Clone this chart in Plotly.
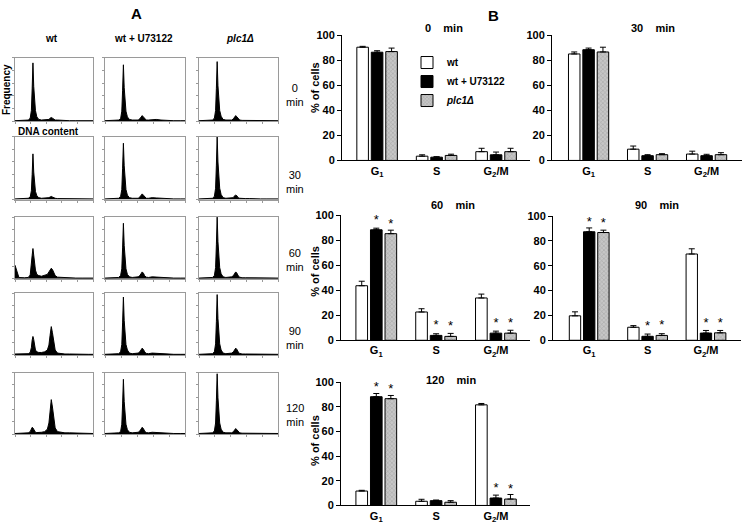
import plotly.graph_objects as go

W, H = 745, 531
FONT = "Liberation Sans, Arial, sans-serif"

# ---------------- Panel B data (% of cells) ----------------
phases = ["G1", "S", "G2/M"]
phase_labels = ["<b>G<sub>1</sub></b>", "<b>S</b>", "<b>G<sub>2</sub>/M</b>"]
strain_names = ["<b>wt</b>", "<b>wt + U73122</b>", "<b><i>plc1\u0394</i></b>"]
time_labels = ["0", "30", "60", "90", "120"]

wt_mean  = [[90.5, 3.4, 7.0], [85.1, 9.0, 5.1], [43.6, 22.6, 33.8], [19.7, 10.5, 69.5], [11.7, 3.4, 81.7]]
wt_err   = [[0.7, 1.1, 2.7], [1.6, 2.5, 2.3], [3.6, 2.6, 3.1], [3.2, 1.3, 4.2], [0.6, 1.6, 1.1]]
u73_mean = [[86.5, 2.6, 4.5], [88.5, 3.8, 3.8], [88.3, 3.9, 5.7], [87.4, 3.2, 5.8], [88.3, 3.9, 6.0]]
u73_err  = [[1.2, 0.4, 2.2], [1.3, 0.8, 1.1], [1.3, 1.3, 1.6], [3.1, 1.8, 2.1], [2.6, 0.5, 2.4]]
plc_mean = [[87.0, 4.0, 7.0], [86.7, 4.6, 4.6], [85.2, 3.1, 5.7], [86.8, 3.9, 6.0], [86.7, 2.6, 5.2]]
plc_err  = [[2.8, 1.0, 2.7], [3.8, 0.8, 1.6], [2.8, 2.4, 2.3], [1.9, 1.4, 1.9], [2.6, 1.3, 3.7]]
wt_sig   = [["", "", ""]] * 5
u73_sig  = [["", "", ""], ["", "", ""], ["*", "*", "*"], ["*", "*", "*"], ["*", "", "*"]]
plc_sig  = [["", "", ""], ["", "", ""], ["*", "*", "*"], ["*", "*", "*"], ["*", "", "*"]]

# ---------------- Panel A data (DNA content histograms) ----------------
dna_channel = [0, 50, 120, 170, 195, 210, 220, 230, 240, 250, 262, 280, 305, 340, 380,
               415, 435, 450, 465, 480, 495, 515, 545, 590, 640, 700, 780, 860, 940, 1000]
hist_wt = [
    [1, 1, 1, 2, 5, 17, 51, 92, 55, 29, 17, 7, 3, 2, 2, 2, 3, 5, 6, 5, 3, 2, 2, 1.5, 1.5, 1, 1, 1, 1, 1],
    [1, 1, 1, 2, 4, 14, 40, 73, 44, 24, 13, 6, 3, 2, 2, 2, 3, 4, 5, 4, 3, 2, 1.5, 1.5, 1, 1, 1, 1, 1, 1],
    [22, 2, 1.5, 2, 6, 20, 38, 49, 40, 25, 14, 7, 5, 4, 5, 7, 11, 15, 17, 15, 10, 5, 2.5, 2, 1.5, 1.5, 1, 1, 1, 1],
    [1.5, 1.5, 1.5, 2, 4, 12, 24, 30, 25, 15, 8, 5, 4, 4, 5, 8, 16, 32, 46, 36, 20, 8, 3, 2, 1.5, 1.5, 1, 1, 1, 1],
    [1, 1, 1, 2, 4, 8, 11, 10, 7, 4, 3, 2.5, 2.5, 3, 4, 8, 18, 38, 56, 44, 24, 10, 4, 3, 2, 2, 1.5, 1, 1, 1],
]
hist_u73 = [
    [1, 1, 1, 2, 4, 16, 49, 89, 53, 28, 16, 7, 3, 2, 2, 2, 4, 7, 9, 7, 4, 2, 2, 3, 3, 2, 1, 1, 1, 1],
    [1, 1, 1, 2, 5, 16, 50, 90, 54, 29, 16, 7, 3, 2, 2, 2, 4, 7, 9, 7, 4, 2, 2, 3, 2.5, 2, 1, 1, 1, 1],
    [1, 1, 1, 2, 5, 16, 50, 90, 54, 29, 16, 7, 3, 2, 2, 3, 5, 9, 11, 9, 5, 2.5, 2, 3, 2.5, 2, 1, 1, 1, 1],
    [1, 1, 1, 2, 5, 17, 52, 94, 56, 30, 17, 8, 3, 2, 2, 3, 5, 9, 11, 9, 5, 2.5, 2, 3, 2.5, 2, 1, 1, 1, 1],
    [1, 1, 1, 2, 4, 16, 49, 89, 53, 28, 16, 7, 3, 2, 2, 3, 5, 9, 11, 9, 5, 2.5, 2, 3, 2.5, 2, 1, 1, 1, 1],
]
hist_plc = [
    [1, 1, 1, 2, 5, 17, 52, 94, 56, 30, 17, 8, 3, 2, 2, 2, 4, 7, 9, 7, 4, 2, 1.5, 1.5, 2, 1.5, 1, 1, 1, 1],
    [1, 1, 1, 2, 5, 18, 55, 100, 60, 32, 18, 8, 3, 2, 2, 2, 3, 6, 7, 6, 3, 2, 1.5, 1.5, 1.5, 1, 1, 1, 1, 1],
    [1, 1, 1, 2, 5, 18, 55, 100, 60, 32, 18, 8, 3, 2, 2, 3, 5, 9, 11, 9, 5, 2.5, 1.5, 1.5, 1.5, 1, 1, 1, 1, 1],
    [1, 1, 1, 2, 5, 18, 54, 98, 59, 31, 18, 8, 3, 2, 2, 3, 5, 9, 11, 9, 5, 2.5, 1.5, 1.5, 1.5, 1, 1, 1, 1, 1],
    [1, 1, 1, 2, 5, 18, 54, 98, 59, 31, 18, 8, 3, 2, 2, 2, 4, 7, 9, 7, 4, 2, 1.5, 1.5, 1.5, 1, 1, 1, 1, 1],
]
hist_columns = ["<b>wt</b>", "<b>wt + U73122</b>", "<b><i>plc1\u0394</i></b>"]

# ---------------- layout helpers (pixel boxes) ----------------
def xd(a, b):
    return [a / W, b / W]

def yd(top, bot):
    return [1 - bot / H, 1 - top / H]

fig = go.Figure()
_count = [0]

def new_axes(xbox, ybox, xcfg, ycfg):
    _count[0] += 1
    s = "" if _count[0] == 1 else str(_count[0])
    fig.update_layout(**{
        "xaxis" + s: dict(domain=xd(*xbox), anchor="y" + s, **xcfg),
        "yaxis" + s: dict(domain=yd(*ybox), anchor="x" + s, **ycfg),
    })
    return "x" + s, "y" + s

# ---------------- Panel A ----------------
hist_cols_px = [(15, 93), (105, 185), (199, 278)]
hist_rows_px = [(53, 118), (134, 198), (216, 279), (294, 357), (375, 438)]
hx = dict(range=[0, 1000], showline=True, linecolor="#9a9a9a", linewidth=1, mirror=True,
          ticks="outside", ticklen=2, tickcolor="#9a9a9a", tickvals=[0, 200, 400, 600, 800, 1000],
          showticklabels=False, showgrid=False, zeroline=False)
hy = dict(range=[0, 100], showline=True, linecolor="#9a9a9a", linewidth=1, mirror=True,
          ticks="outside", ticklen=2, tickcolor="#9a9a9a", tickvals=[0, 20, 40, 60, 80, 100],
          showticklabels=False, showgrid=False, zeroline=False)
for r in range(5):
    for c, data in enumerate([hist_wt, hist_u73, hist_plc]):
        xa, ya = new_axes(hist_cols_px[c], hist_rows_px[r], hx, hy)
        fig.add_trace(go.Scatter(x=dna_channel, y=data[r], mode="lines",
                                 line=dict(color="black", width=1), fill="tozeroy",
                                 fillcolor="black", xaxis=xa, yaxis=ya,
                                 showlegend=False, hoverinfo="skip"))

# ---------------- Panel B ----------------
bar_boxes = [
    ((342, 530), (30, 158), [-0.59, 2.57]),
    ((552, 742), (30, 158), [-0.62, 2.6]),
    ((341, 530), (214, 342), [-0.59, 2.57]),
    ((553, 741), (215, 342), [-0.62, 2.6]),
    ((341, 530), (385, 511), [-0.59, 2.57]),
]
styles = [
    dict(color="white", pattern=None),
    dict(color="black", pattern=None),
    dict(color="#bcbcbc", pattern=dict(shape="x", fgcolor="#808080", bgcolor="#c6c6c6", size=3, solidity=0.3)),
]
for k in range(5):
    xbox, ybox, xr = bar_boxes[k]
    bx = dict(type="category", categoryorder="array", categoryarray=phases, range=xr,
              showline=True, linecolor="black", linewidth=1, ticks="", tickvals=phases,
              ticktext=phase_labels, tickfont=dict(size=11, family=FONT, color="black"),
              showgrid=False, zeroline=False)
    by = dict(range=[0, 100], tickvals=[0, 20, 40, 60, 80, 100], ticks="outside", ticklen=4,
              tickcolor="black", tickfont=dict(size=11, family=FONT, color="black", weight="bold"),
              showline=True, linecolor="black", linewidth=1, showgrid=False, zeroline=False)
    xa, ya = new_axes(xbox, ybox, bx, by)
    series = [(wt_mean, wt_err, wt_sig), (u73_mean, u73_err, u73_sig), (plc_mean, plc_err, plc_sig)]
    for j, (m, e, sg) in enumerate(series):
        mk = dict(color=styles[j]["color"], line=dict(color="black", width=1))
        if styles[j]["pattern"]:
            mk["pattern"] = styles[j]["pattern"]
        fig.add_trace(go.Bar(
            x=phases, y=m[k], name=strain_names[j], legendgroup=str(j), showlegend=(k == 0),
            marker=mk, xaxis=xa, yaxis=ya,
            error_y=dict(type="data", array=e[k], arrayminus=[0, 0, 0], symmetric=False,
                         color="black", thickness=1, width=3),
            text=sg[k], textposition="outside", textangle=0, constraintext="none",
            textfont=dict(size=13, family=FONT, color="black"), cliponaxis=False,
            hoverinfo="skip"))

# ---------------- Annotations ----------------
ann = []
def A(text, x, y, size=11, angle=0, xanchor="center", align="center", color="black"):
    ann.append(dict(text=text, x=x / W, y=1 - y / H, xref="paper", yref="paper", showarrow=False,
                    font=dict(size=size, family=FONT, color=color), textangle=angle,
                    xanchor=xanchor, yanchor="middle", align=align))

A("<b>A</b>", 136, 8, size=15)
A("<b>B</b>", 494, 10, size=15)
for c, lab in enumerate(hist_columns):
    A(lab, [52, 143, 240][c], 33, size=10)
A("<b>Frequency</b>", 6, 86, size=10, angle=-90)
A("<b>DNA content</b>", 16, 128, size=10, xanchor="left", align="left")
for r, t in enumerate(time_labels):
    A(t + "<br>min", 295, [91, 180, 260, 340, 418][r], size=11)
title_pos = [(444, 22), (653, 22), (453, 204), (657, 204), (451, 383)]
for k, t in enumerate(time_labels):
    A("<b>" + t + "\u00a0\u00a0\u00a0\u00a0min</b>", title_pos[k][0], title_pos[k][1], size=11)
for yy in [84, 272, 445]:
    A("<b>% of cells</b>", 315, yy, size=11, angle=-90)

fig.update_layout(
    width=W, height=H, margin=dict(l=0, r=0, t=0, b=0),
    paper_bgcolor="white", plot_bgcolor="white",
    barmode="group", bargap=0.27, bargroupgap=0.2,
    annotations=ann,
    showlegend=True,
    legend=dict(x=407 / W, y=1 - 43 / H, xanchor="left", yanchor="top",
                font=dict(size=10, family=FONT, color="black"), bgcolor="rgba(0,0,0,0)",
                itemwidth=30, tracegroupgap=0),
    font=dict(family=FONT),
)

fig.write_html("out.html", config={"displayModeBar": False},
               post_script="document.body.style.margin='0px';document.body.style.padding='0px';"
                           "document.body.style.overflow='hidden';")
